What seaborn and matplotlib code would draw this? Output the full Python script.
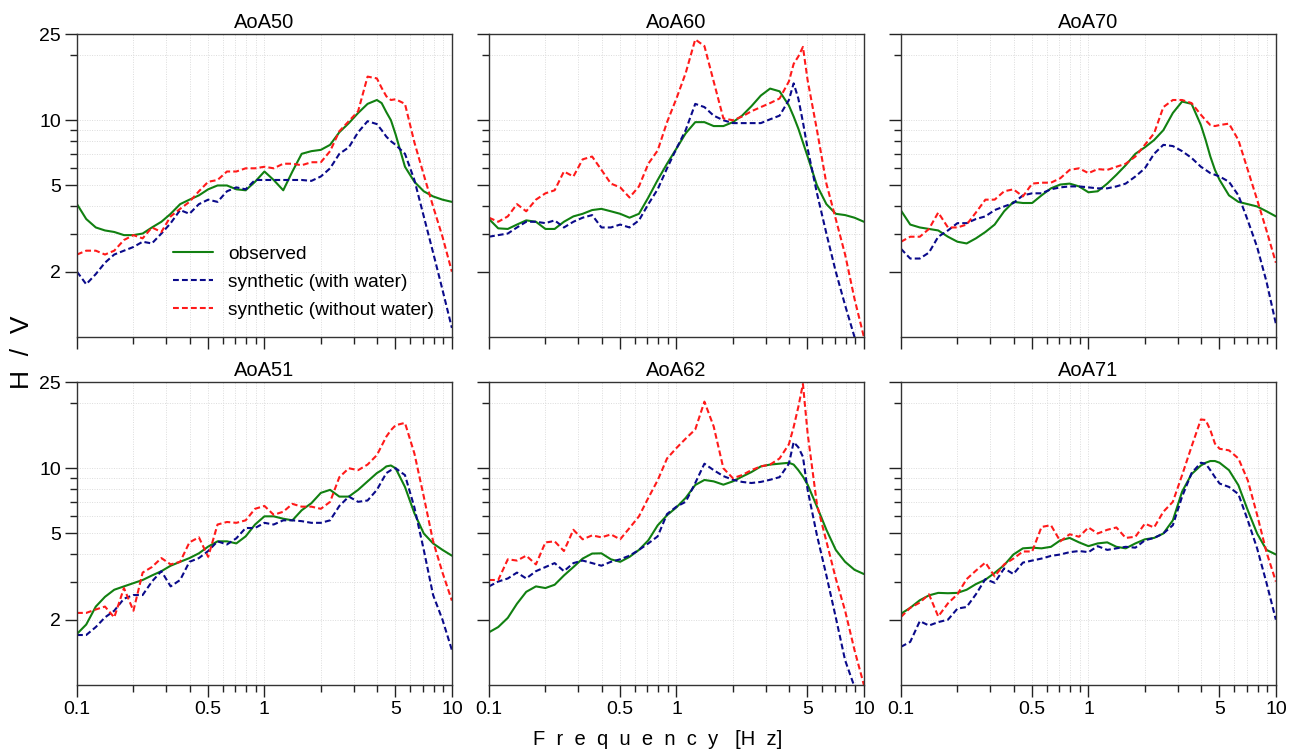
"""Observed vs synthetic H/V spectral ratios at six AoA stations."""

import matplotlib
matplotlib.use("Agg")
import matplotlib.pyplot as plt
import matplotlib.ticker as mticker
import seaborn as sns

# frequency samples [Hz], shared by every curve
FREQ = [0.1, 0.112, 0.126, 0.141, 0.158, 0.178, 0.2, 0.224, 0.251, 0.282,
        0.316, 0.355, 0.398, 0.447, 0.501, 0.562, 0.631, 0.708, 0.794, 0.891,
        1.0, 1.12, 1.26, 1.41, 1.58, 1.78, 2.0, 2.24, 2.51, 2.82,
        3.16, 3.55, 3.98, 4.22, 4.47, 4.73, 5.01, 5.62, 6.31, 7.08,
        7.94, 8.91, 10.0]

AOA50_OBS = [4.1, 3.5, 3.2, 3.1, 3.05, 2.95, 2.95, 3.0, 3.2, 3.4,
             3.7, 4.1, 4.3, 4.5, 4.8, 5.0, 5.0, 4.8, 4.75, 5.2,
             5.8, 5.3, 4.75, 5.8, 7.0, 7.2, 7.3, 7.7, 8.8, 9.7,
             10.8, 11.9, 12.4, 12.0, 10.9, 10.0, 8.6, 6.1, 5.2, 4.7,
             4.45, 4.3, 4.2]
AOA50_WET = [2.0, 1.75, 1.95, 2.2, 2.4, 2.5, 2.6, 2.75, 2.7, 3.0,
             3.35, 3.85, 3.7, 4.1, 4.3, 4.2, 4.7, 4.9, 4.8, 5.3,
             5.3, 5.3, 5.3, 5.3, 5.3, 5.25, 5.5, 6.0, 7.0, 7.5,
             8.8, 9.9, 9.6, 9.0, 8.4, 8.0, 7.7, 7.0, 5.3, 3.6,
             2.45, 1.65, 1.1]
AOA50_DRY = [2.4, 2.5, 2.5, 2.4, 2.5, 2.8, 2.95, 2.85, 3.2, 3.05,
             3.6, 3.9, 4.2, 4.7, 5.2, 5.3, 5.8, 5.8, 6.0, 6.0,
             6.1, 6.0, 6.3, 6.3, 6.2, 6.4, 6.4, 7.2, 8.9, 9.9,
             11.0, 15.9, 15.6, 14.1, 12.9, 12.4, 12.5, 11.9, 7.9, 5.6,
             4.0, 2.9, 2.0]

AOA60_OBS = [3.5, 3.17, 3.15, 3.3, 3.45, 3.4, 3.15, 3.15, 3.4, 3.6,
             3.7, 3.85, 3.9, 3.8, 3.7, 3.55, 3.7, 4.4, 5.3, 6.3,
             7.4, 8.7, 9.8, 9.8, 9.4, 9.4, 9.8, 10.5, 11.6, 13.0,
             14.0, 13.6, 11.7, 10.4, 9.15, 7.9, 6.8, 5.0, 4.1, 3.7,
             3.65, 3.55, 3.4]
AOA60_WET = [2.9, 2.95, 3.0, 3.2, 3.4, 3.4, 3.35, 3.45, 3.2, 3.4,
             3.55, 3.65, 3.2, 3.2, 3.3, 3.2, 3.45, 4.1, 4.8, 6.0,
             7.4, 9.0, 11.9, 11.5, 10.5, 10.0, 9.7, 9.7, 9.7, 9.7,
             10.1, 10.5, 12.4, 14.8, 12.6, 9.8, 7.4, 4.6, 3.0, 2.0,
             1.4, 1.0, 0.8]
AOA60_DRY = [3.55, 3.4, 3.6, 4.1, 3.8, 4.3, 4.6, 4.75, 5.8, 5.5,
             6.6, 6.8, 5.9, 5.1, 4.9, 4.4, 4.95, 6.3, 7.25, 9.8,
             12.6, 16.5, 23.6, 22.0, 15.1, 10.2, 10.0, 10.4, 11.0, 11.5,
             12.0, 12.6, 15.1, 18.2, 19.7, 21.8, 15.3, 9.0, 5.1, 3.5,
             2.4, 1.5, 1.0]

AOA70_OBS = [3.83, 3.3, 3.2, 3.15, 3.1, 2.9, 2.75, 2.7, 2.85, 3.05,
             3.3, 3.8, 4.2, 4.15, 4.15, 4.5, 4.85, 5.05, 5.1, 4.95,
             4.65, 4.7, 5.1, 5.6, 6.2, 7.0, 7.5, 8.1, 9.0, 10.8,
             12.2, 11.9, 9.5, 8.1, 6.8, 5.9, 5.3, 4.5, 4.2, 4.1,
             4.0, 3.8, 3.6]
AOA70_WET = [2.55, 2.3, 2.3, 2.45, 2.9, 3.1, 3.35, 3.35, 3.5, 3.6,
             3.85, 4.0, 4.15, 4.5, 4.6, 4.6, 4.8, 4.9, 4.95, 4.95,
             4.9, 4.85, 4.85, 4.95, 5.1, 5.5, 6.0, 7.0, 7.7, 7.6,
             7.2, 6.7, 6.1, 5.9, 5.7, 5.6, 5.5, 5.2, 4.5, 3.45,
             2.6, 1.8, 1.15]
AOA70_DRY = [2.75, 2.9, 2.9, 3.15, 3.75, 3.2, 3.2, 3.3, 3.75, 4.3,
             4.3, 4.7, 4.8, 4.45, 5.1, 5.15, 5.15, 5.4, 5.9, 6.0,
             5.7, 5.95, 5.9, 6.1, 6.3, 6.8, 7.7, 8.7, 11.5, 12.4,
             12.4, 12.0, 10.6, 10.0, 9.5, 9.4, 9.5, 9.65, 8.1, 5.9,
             4.3, 3.1, 2.2]

AOA51_OBS = [1.72, 1.9, 2.3, 2.55, 2.75, 2.85, 2.95, 3.05, 3.2, 3.35,
             3.55, 3.7, 3.85, 4.05, 4.35, 4.6, 4.6, 4.5, 4.85, 5.5,
             6.0, 6.0, 5.85, 5.75, 6.4, 6.9, 7.7, 7.95, 7.4, 7.4,
             7.95, 8.7, 9.5, 9.8, 10.2, 10.3, 10.0, 8.2, 6.2, 5.0,
             4.5, 4.2, 3.95]
AOA51_WET = [1.7, 1.7, 1.85, 2.05, 2.2, 2.5, 2.6, 2.6, 3.0, 3.35,
             2.85, 3.05, 3.7, 3.85, 4.15, 4.6, 4.45, 4.75, 5.3, 5.3,
             5.6, 5.5, 5.75, 5.75, 5.7, 5.6, 5.6, 5.75, 6.7, 7.4,
             7.0, 7.1, 7.95, 8.7, 9.5, 9.8, 10.0, 9.3, 6.6, 4.2,
             2.6, 2.0, 1.45]
AOA51_DRY = [2.15, 2.15, 2.23, 2.3, 2.05, 2.8, 2.2, 3.3, 3.5, 3.85,
             3.6, 3.7, 4.55, 4.8, 3.9, 5.5, 5.65, 5.6, 5.75, 6.5,
             6.7, 6.1, 6.3, 6.85, 6.65, 6.65, 6.5, 7.0, 9.1, 10.0,
             9.8, 10.4, 11.5, 12.7, 14.0, 15.0, 15.8, 16.2, 11.7, 7.4,
             4.6, 3.3, 2.45]

AOA62_OBS = [1.75, 1.85, 2.04, 2.37, 2.69, 2.85, 2.8, 2.9, 3.2, 3.5,
             3.83, 4.04, 4.05, 3.8, 3.7, 3.9, 4.2, 4.65, 5.45, 6.07,
             6.6, 7.3, 8.37, 8.83, 8.7, 8.4, 8.7, 9.15, 9.6, 10.2,
             10.4, 10.5, 10.6, 10.4, 9.8, 9.15, 8.4, 6.65, 5.2, 4.2,
             3.7, 3.4, 3.25]
AOA62_WET = [2.85, 3.0, 3.1, 3.3, 3.1, 3.35, 3.5, 3.65, 3.35, 3.65,
             3.75, 3.65, 3.55, 3.7, 3.8, 3.95, 4.2, 4.5, 4.85, 6.15,
             6.65, 7.0, 8.55, 10.5, 9.8, 9.2, 8.85, 8.65, 8.55, 8.65,
             8.85, 9.1, 10.5, 13.2, 12.5, 11.3, 7.95, 4.9, 3.2, 2.05,
             1.3, 0.98, 0.8]
AOA62_DRY = [3.05, 3.05, 3.8, 3.75, 3.95, 3.6, 4.55, 4.6, 4.15, 5.2,
             4.7, 4.9, 4.8, 4.95, 4.7, 5.3, 6.0, 7.3, 8.8, 11.1,
             12.4, 13.7, 15.1, 20.3, 15.6, 10.0, 9.0, 9.3, 9.8, 10.2,
             10.4, 11.1, 12.9, 15.5, 19.2, 24.5, 14.5, 6.8, 4.6, 3.1,
             2.2, 1.45, 1.0]

AOA71_OBS = [2.13, 2.27, 2.46, 2.59, 2.66, 2.65, 2.66, 2.75, 2.92, 3.06,
             3.29, 3.57, 4.0, 4.27, 4.3, 4.27, 4.34, 4.65, 4.77, 4.55,
             4.37, 4.5, 4.55, 4.34, 4.27, 4.5, 4.7, 4.77, 5.0, 5.75,
             7.8, 9.4, 10.3, 10.6, 10.8, 10.8, 10.6, 9.8, 8.35, 6.4,
             5.0, 4.2, 4.0]
AOA71_WET = [1.5, 1.58, 1.97, 1.88, 1.95, 2.0, 2.25, 2.29, 2.62, 3.08,
             2.96, 3.45, 3.25, 3.67, 3.75, 3.83, 3.94, 4.0, 4.1, 4.15,
             4.1, 4.37, 4.2, 4.27, 4.34, 4.3, 4.65, 4.77, 5.0, 5.46,
             7.4, 9.5, 10.6, 10.5, 9.8, 9.1, 8.5, 8.2, 7.6, 5.75,
             4.27, 2.96, 2.0]
AOA71_DRY = [2.06, 2.27, 2.4, 2.62, 2.07, 2.38, 2.62, 3.08, 3.37, 3.67,
             3.17, 3.6, 3.83, 4.13, 4.13, 5.36, 5.46, 4.6, 4.96, 4.83,
             5.33, 5.0, 5.2, 5.33, 4.77, 4.83, 5.55, 5.33, 6.3, 7.0,
             9.3, 12.6, 16.8, 16.7, 15.0, 13.0, 12.3, 12.1, 11.1, 8.8,
             6.1, 4.1, 3.0]

STATIONS = ["AoA50", "AoA60", "AoA70", "AoA51", "AoA62", "AoA71"]
LABELS = ["observed", "synthetic (with water)", "synthetic (without water)"]
X_MAJOR = [0.1, 0.5, 1, 5, 10]
X_MINOR = [0.2, 0.3, 0.4, 0.6, 0.7, 0.8, 0.9, 2, 3, 4, 6, 7, 8, 9]
Y_MAJOR = [2, 5, 10, 25]
Y_MINOR = [3, 4, 6, 7, 8, 9, 20]

COLORS = ["#118011", "#0a0a8a", "#ff1a1a"]


def station_curves():
    return {
        "AoA50": (AOA50_OBS, AOA50_WET, AOA50_DRY),
        "AoA60": (AOA60_OBS, AOA60_WET, AOA60_DRY),
        "AoA70": (AOA70_OBS, AOA70_WET, AOA70_DRY),
        "AoA51": (AOA51_OBS, AOA51_WET, AOA51_DRY),
        "AoA62": (AOA62_OBS, AOA62_WET, AOA62_DRY),
        "AoA71": (AOA71_OBS, AOA71_WET, AOA71_DRY),
    }


def style_axis(ax):
    ax.set_xscale("log")
    ax.set_yscale("log")
    ax.set_xlim(0.1, 10)
    ax.set_ylim(1, 25)
    ax.xaxis.set_major_locator(mticker.FixedLocator(X_MAJOR))
    ax.xaxis.set_minor_locator(mticker.FixedLocator(X_MINOR))
    ax.yaxis.set_major_locator(mticker.FixedLocator(Y_MAJOR))
    ax.yaxis.set_minor_locator(mticker.FixedLocator(Y_MINOR))
    ax.xaxis.set_major_formatter(mticker.FormatStrFormatter("%g"))
    ax.yaxis.set_major_formatter(mticker.FormatStrFormatter("%g"))
    ax.xaxis.set_minor_formatter(mticker.NullFormatter())
    ax.yaxis.set_minor_formatter(mticker.NullFormatter())
    ax.tick_params(which="major", length=8.5, width=1.0, direction="out",
                   labelsize=14, pad=3, color="#222222", labelcolor="black")
    ax.tick_params(which="minor", length=5, width=1.0, direction="out",
                   color="#222222")
    ax.grid(True, which="both", color="#dcdcdc", linestyle=(0, (1, 1.5)),
            linewidth=0.7)
    ax.set_axisbelow(True)
    for spine in ax.spines.values():
        spine.set_visible(True)
        spine.set_color("#333333")
        spine.set_linewidth(1.0)


def draw_panel(ax, name, curves):
    style_axis(ax)
    for i, values in enumerate(curves):
        sns.lineplot(x=FREQ, y=values, ax=ax, color=COLORS[i], linewidth=1.5,
                     estimator=None, errorbar=None, legend=False)
        if i > 0:
            ax.lines[-1].set_dashes([2.8, 1.5])
    ax.set_title(name, fontsize=14.5, pad=4, color="black")
    ax.set_xlabel("")
    ax.set_ylabel("")


def main():
    sns.set_theme(style="ticks")
    plt.rcParams["font.family"] = ["Liberation Sans", "DejaVu Sans"]
    plt.rcParams["text.color"] = "black"

    fig, axes = plt.subplots(2, 3, figsize=(12.94, 7.56), dpi=100,
                             sharex=True, sharey=True)
    fig.subplots_adjust(left=0.0595, right=0.986, top=0.955, bottom=0.094,
                        wspace=0.099, hspace=0.149)

    curves = station_curves()
    for ax, name in zip(axes.flat, STATIONS):
        draw_panel(ax, name, curves[name])

    first = axes[0, 0]
    first.legend(handles=first.lines[:3], labels=LABELS, loc="lower right",
                 bbox_to_anchor=(0.963, 0.047), frameon=False, fontsize=13.8,
                 handlelength=2.1, handletextpad=0.8, borderaxespad=0,
                 borderpad=0.2, labelspacing=0.55)

    fig.text(0.508, 0.022, "F  r  e  q  u  e  n  c  y   [H  z]",
             ha="center", va="center", fontsize=14.5, color="black")
    fig.text(0.017, 0.534, "H  /  V", ha="center", va="center",
             rotation=90, fontsize=19, color="black")

    fig.savefig("out.png", dpi=100)
    plt.close(fig)


if __name__ == "__main__":
    main()
